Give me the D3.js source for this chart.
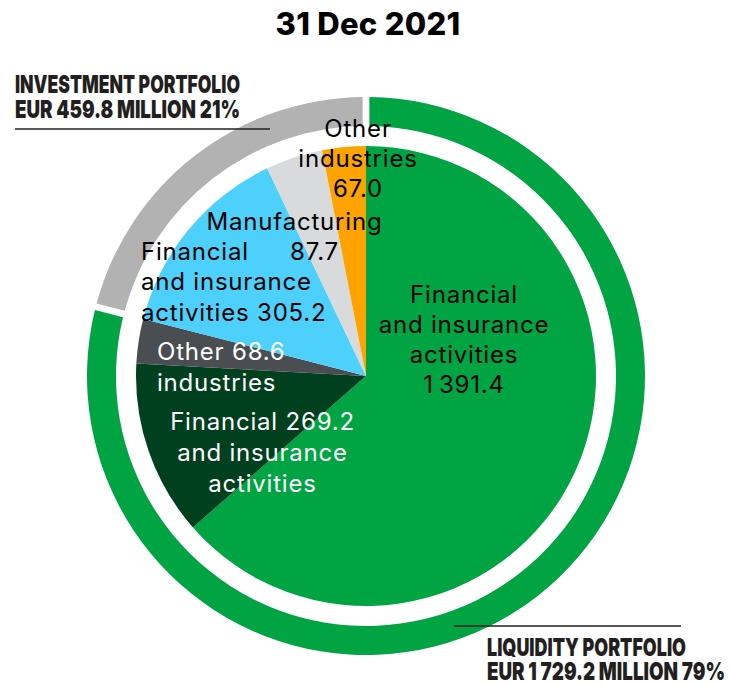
<!DOCTYPE html>
<html>
<head>
<meta charset="utf-8">
<script src="https://cdn.jsdelivr.net/npm/d3@7"></script>
<style>
  html, body { margin: 0; padding: 0; background: #fff; }
  svg { display: block; }
  .slice-label { font-family: Inter, "Noto Sans", sans-serif; font-size: 24px; font-weight: 400; letter-spacing: 0.8px; }
  .title { font-family: Inter, sans-serif; font-size: 31px; font-weight: 800; letter-spacing: 0.3px; }
  .portfolio { font-family: Inter, "Roboto", sans-serif; font-size: 18px; font-weight: 900; fill: #231f20; }
</style>
</head>
<body>
<svg id="chart" width="733" height="685"></svg>
<script>
// Portfolio totals (EUR million) for the outer ring
const portfolioNames = ["Liquidity portfolio", "Investment portfolio"];
const portfolioValues = [1729.2, 459.8];

// Industry breakdown (EUR million) for the inner pie, clockwise from 12 o'clock
const sliceNames = [
  "Financial and insurance activities",
  "Financial and insurance activities",
  "Other industries",
  "Financial and insurance activities",
  "Manufacturing",
  "Other industries"
];
const sliceValues = [1391.4, 269.2, 68.6, 305.2, 87.7, 67.0];
const slicePortfolio = [0, 0, 0, 1, 1, 1];

const title = "31 Dec 2021";

// Styling
const sliceColors = ["#00a443", "#00401f", "#4a4e53", "#4dd0fb", "#d9dadb", "#ffa300"];
const ringColors = ["#00a443", "#b1b2b1"];
const sliceTextColors = ["#000", "#fff", "#fff", "#000", "#000", "#000"];

const svg = d3.select("#chart");
const cx = 366, cy = 376;
const pieRadius = 230;
const ringInner = 250, ringOuter = 279;

const fmt = (v, sep) => d3.format(",.1f")(v).replace(/,/g, sep || "\u2009");

const g = svg.append("g").attr("transform", `translate(${cx},${cy})`);

// Outer ring: portfolio shares
const ringPie = d3.pie().sort(null).value(d => d)(portfolioValues);
const ringArc = d3.arc().innerRadius(ringInner).outerRadius(ringOuter).padAngle(0.018);
g.selectAll("path.ring").data(ringPie).join("path")
  .attr("class", "ring")
  .attr("d", ringArc)
  .attr("fill", (d, i) => ringColors[i]);

// Inner pie: industries
const slicePie = d3.pie().sort(null).value(d => d)(sliceValues);
const sliceArc = d3.arc().innerRadius(0).outerRadius(pieRadius);
g.selectAll("path.slice").data(slicePie).join("path")
  .attr("class", "slice")
  .attr("d", sliceArc)
  .attr("fill", (d, i) => sliceColors[i]);

// Label layout: per-line text templates ({v} = value) and positions relative to the centre
const labelLayout = [
  { anchor: "middle", lines: [["Financial", 98, -73], ["and insurance", 98, -43], ["activities", 98, -13], ["{v}", 98, 17]] },
  { anchor: "middle", lines: [["Financial {v}", -103.5, 54], ["and insurance", -103.5, 85], ["activities", -103.5, 116]] },
  { anchor: "start",  lines: [["Other {v}", -209, -16], ["industries", -209, 15]] },
  { anchor: "start",  lines: [["Financial", -225, -116], ["and insurance", -225, -86], ["activities {v}", -225, -55]] },
  { anchor: "middle", lines: [["Manufacturing", -71.5, -146], ["{v}", -51.5, -116]] },
  { anchor: "middle", lines: [["Other", -8, -239], ["industries", -8, -209], ["{v}", -8, -179]] }
];

const labels = g.selectAll("g.label").data(slicePie).join("g").attr("class", "label");
labels.each(function(d, i) {
  const lay = labelLayout[i];
  d3.select(this).selectAll("text").data(lay.lines).join("text")
    .attr("class", "slice-label")
    .attr("x", l => l[1])
    .attr("y", l => l[2])
    .attr("text-anchor", lay.anchor)
    .attr("fill", sliceTextColors[i])
    .text(l => l[0].replace("{v}", fmt(sliceValues[i])));
});

// Title
svg.append("text").attr("class", "title")
  .attr("x", 368).attr("y", 35).attr("text-anchor", "middle")
  .text(title);

// Portfolio captions: heavy, condensed uppercase (narrow glyphs stretched vertically)
const total = d3.sum(portfolioValues);
const caption = i => [
  portfolioNames[i].toUpperCase(),
  `EUR ${fmt(portfolioValues[i], " ")} MILLION ${Math.round(portfolioValues[i] / total * 100)}%`
];

function captionText(x, y, width, str) {
  svg.append("text").attr("class", "portfolio")
    .attr("transform", `translate(${x},${y}) scale(1,1.38)`)
    .attr("textLength", width).attr("lengthAdjust", "spacingAndGlyphs")
    .text(str);
}

const inv = caption(1);
captionText(15, 93, 225, inv[0]);
captionText(15, 118, 225, inv[1]);
svg.append("line").attr("x1", 15).attr("x2", 270).attr("y1", 129).attr("y2", 129)
  .attr("stroke", "#231f20").attr("stroke-width", 1.5);

const liq = caption(0);
svg.append("line").attr("x1", 454).attr("x2", 681).attr("y1", 626).attr("y2", 626)
  .attr("stroke", "#231f20").attr("stroke-width", 1.5);
captionText(487, 656, 199, liq[0]);
captionText(487, 680, 238, liq[1]);
</script>
</body>
</html>
